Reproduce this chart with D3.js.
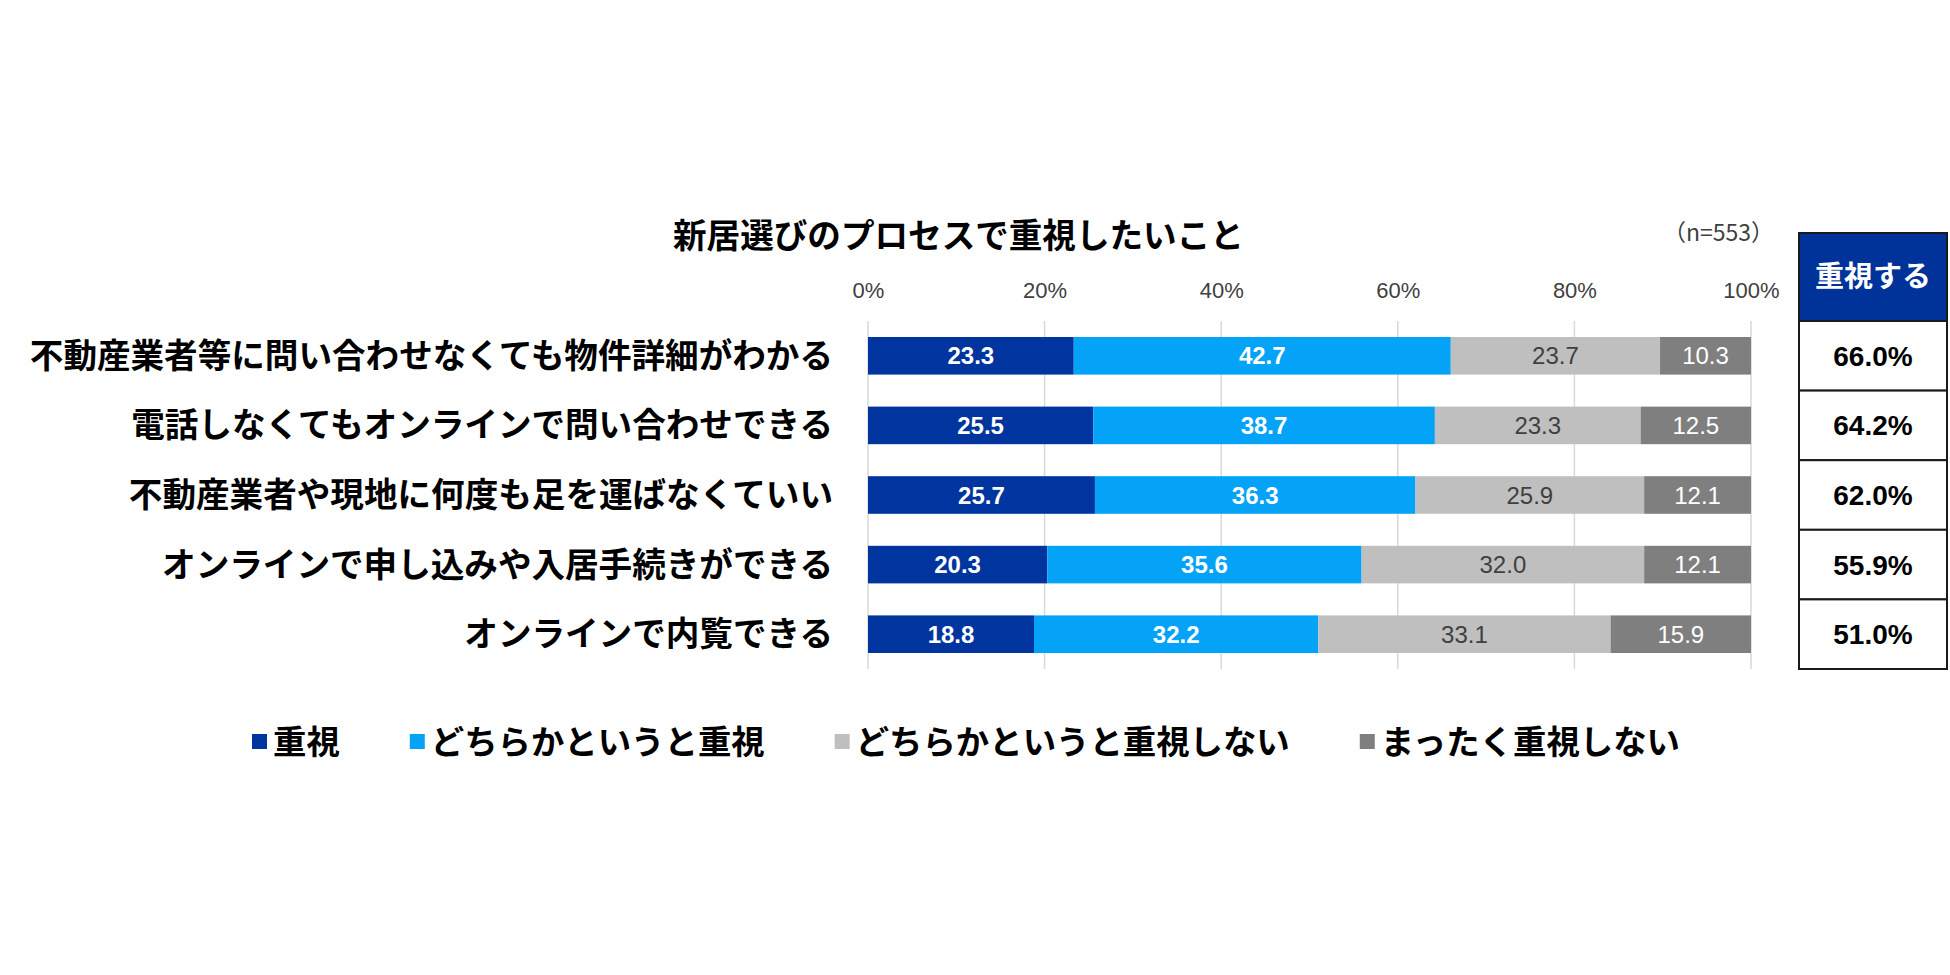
<!DOCTYPE html>
<html>
<head>
<meta charset="utf-8">
<script src="https://cdn.jsdelivr.net/npm/d3@7"></script>
<style>
  html, body { margin: 0; padding: 0; background: #fff; }
  svg { display: block; }
  text { font-family: "Noto Sans CJK JP", "Noto Sans", sans-serif; }
  .num { font-family: "Liberation Sans Narrow", "Liberation Sans", Arial, sans-serif; }
</style>
</head>
<body>
<svg id="chart" width="1950" height="975"></svg>
<script>
var TITLE = "新居選びのプロセスで重視したいこと";
var SAMPLE_NOTE = "（n=553）";
var TABLE_HEAD = "重視する";

var categories = [
    "不動産業者等に問い合わせなくても物件詳細がわかる",
    "電話しなくてもオンラインで問い合わせできる",
    "不動産業者や現地に何度も足を運ばなくていい",
    "オンラインで申し込みや入居手続きができる",
    "オンラインで内覧できる"
];
var seriesNames = ["重視", "どちらかというと重視", "どちらかというと重視しない", "まったく重視しない"];
var juushi = [23.3, 25.5, 25.7, 20.3, 18.8];
var yaJuushi = [42.7, 38.7, 36.3, 35.6, 32.2];
var yaJuushiShinai = [23.7, 23.3, 25.9, 32.0, 33.1];
var mattakuShinai = [10.3, 12.5, 12.1, 12.1, 15.9];
var juushiSuru = [66.0, 64.2, 62.0, 55.9, 51.0];
var xTicks = [0, 20, 40, 60, 80, 100];

var COLORS = ["#0035a0", "#05a3f7", "#bfbfbf", "#7f7f7f"];
var LABEL_COLORS = ["#ffffff", "#ffffff", "#404040", "#ffffff"];
var LABEL_WEIGHTS = ["bold", "bold", "normal", "normal"];

var svg = d3.select("#chart");

var rows = categories.map(function (c, i) {
    return { cat: c, s0: juushi[i], s1: yaJuushi[i], s2: yaJuushiShinai[i], s3: mattakuShinai[i] };
});
var keys = ["s0", "s1", "s2", "s3"];
var stacked = d3.stack().keys(keys)(rows);

var x = d3.scaleLinear().domain([0, 100]).range([868, 1751]);
var y = d3.scaleBand().domain(categories).range([321, 669]).paddingInner(0.46).paddingOuter(0.23);

// title + n
svg.append("text").attr("x", 673).attr("y", 248)
    .attr("font-size", 33.6).attr("font-weight", "bold").attr("fill", "#000")
    .text(TITLE);
svg.append("text").attr("x", 1774).attr("y", 241).attr("text-anchor", "end")
    .attr("font-size", 23).attr("fill", "#404040")
    .text(SAMPLE_NOTE);

// gridlines
svg.append("g").selectAll("line").data(xTicks).enter().append("line")
    .attr("x1", function (d) { return x(d); }).attr("x2", function (d) { return x(d); })
    .attr("y1", 321).attr("y2", 669)
    .attr("stroke", "#d9d9d9").attr("stroke-width", 1.5);

// top axis labels
var xAxis = d3.axisTop(x).tickValues(xTicks).tickSize(0).tickPadding(0)
    .tickFormat(function (d) { return d + "%"; });
var gx = svg.append("g").attr("transform", "translate(0,298)").call(xAxis);
gx.select(".domain").remove();
gx.selectAll("text").attr("class", "num").attr("font-size", 22).attr("fill", "#404040");

// category labels
svg.append("g").selectAll("text").data(categories).enter().append("text")
    .attr("x", 833).attr("y", function (d) { return y(d) + y.bandwidth() / 2; })
    .attr("dy", "0.36em").attr("text-anchor", "end")
    .attr("font-size", 33.6).attr("font-weight", "bold").attr("fill", "#000")
    .text(function (d) { return d; });

// bars
var layers = svg.append("g").selectAll("g.layer").data(stacked).enter().append("g")
    .attr("class", "layer")
    .attr("fill", function (d, i) { return COLORS[i]; });

layers.selectAll("rect").data(function (d) { return d; }).enter().append("rect")
    .attr("x", function (d) { return x(d[0]); })
    .attr("y", function (d) { return y(d.data.cat); })
    .attr("width", function (d) { return x(d[1]) - x(d[0]); })
    .attr("height", y.bandwidth());

layers.each(function (layer, li) {
    d3.select(this).selectAll("text").data(layer).enter().append("text")
        .attr("class", "num")
        .attr("x", function (d) { return (x(d[0]) + x(d[1])) / 2; })
        .attr("y", function (d) { return y(d.data.cat) + y.bandwidth() / 2; })
        .attr("dy", "0.36em").attr("text-anchor", "middle")
        .attr("font-size", 24).attr("font-weight", LABEL_WEIGHTS[li])
        .attr("fill", LABEL_COLORS[li])
        .text(function (d) { return (d[1] - d[0]).toFixed(1); });
});

// right table
var tableX = 1799, tableW = 148, headTop = 233;
var table = svg.append("g");
table.append("rect").attr("x", tableX).attr("y", headTop)
    .attr("width", tableW).attr("height", 321 - headTop)
    .attr("fill", "#003399").attr("stroke", "#1a1a1a").attr("stroke-width", 2);
table.append("text").attr("x", tableX + tableW / 2).attr("y", (headTop + 321) / 2)
    .attr("dy", "0.36em").attr("text-anchor", "middle")
    .attr("font-size", 29).attr("font-weight", "bold").attr("fill", "#fff")
    .text(TABLE_HEAD);

var step = y.step();
var cells = table.selectAll("g.cell").data(juushiSuru).enter().append("g").attr("class", "cell");
cells.append("rect")
    .attr("x", tableX)
    .attr("y", function (d, i) { return y(categories[i]) - y.paddingInner() * step / 2; })
    .attr("width", tableW).attr("height", step)
    .attr("fill", "#fff").attr("stroke", "#1a1a1a").attr("stroke-width", 2);
cells.append("text")
    .attr("x", tableX + tableW / 2)
    .attr("y", function (d, i) { return y(categories[i]) + y.bandwidth() / 2; })
    .attr("dy", "0.36em").attr("text-anchor", "middle")
    .style("font-family", "'Liberation Sans', Arial, sans-serif")
    .attr("font-size", 28).attr("font-weight", "bold").attr("fill", "#000")
    .text(function (d) { return d.toFixed(1) + "%"; });

// legend
var legend = svg.append("g").attr("transform", "translate(252,742)");
var lx = 0;
seriesNames.forEach(function (name, i) {
    var item = legend.append("g").attr("transform", "translate(" + lx + ",0)");
    item.append("rect").attr("x", 0).attr("y", -8).attr("width", 15).attr("height", 15)
        .attr("fill", COLORS[i]);
    var t = item.append("text").attr("x", 21).attr("y", 0).attr("dy", "0.36em")
        .attr("font-size", 33.4).attr("font-weight", "bold").attr("fill", "#000")
        .text(name);
    lx += 21 + t.node().getComputedTextLength() + 70;
});
</script>
</body>
</html>
